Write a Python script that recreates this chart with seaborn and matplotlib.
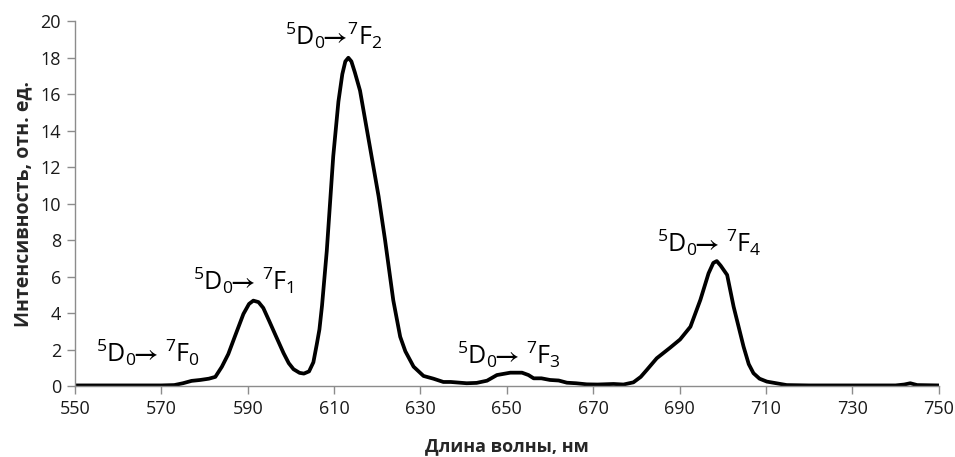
import matplotlib
matplotlib.use("Agg")
import matplotlib.pyplot as plt
import seaborn as sns
import pandas as pd

# Luminescence spectrum of Eu3+ (wavelength in nm, intensity in rel. units)
wavelength = [550, 560, 570, 573, 575, 577, 579, 581, 582.5, 584, 585.5, 587, 589,
              590.3, 591.3, 592.5, 593.6, 595, 596.5, 598.3, 599.5, 600.6, 602, 603,
              604.2, 605.2, 606, 606.6, 607.2, 608.3, 609.8, 611.0, 611.9, 612.6, 613.3,
              614.0, 614.8, 616.0, 618.3, 620.3, 621.8, 623.7, 625.3, 626.5, 628.4, 630.7,
              633, 635.3, 637, 640.7, 643, 645.4, 647.7, 650.8, 653.5, 655, 656.2,
              658, 660, 662, 663.9, 666, 668.5, 671, 674.7, 677, 679.3, 681, 682.4,
              684.7, 687.8, 690.1, 692.5, 694.8, 696.7, 697.8, 698.6, 699.5, 701,
              702.5, 704.8, 706.0, 707.1, 708.5, 710.2, 714.8, 720, 740, 742, 743.4,
              745, 750]
intensity = [0.03, 0.03, 0.03, 0.05, 0.15, 0.28, 0.33, 0.40, 0.50, 1.05, 1.75, 2.7, 3.95,
             4.5, 4.68, 4.6, 4.28, 3.55, 2.75, 1.8, 1.25, 0.92, 0.72, 0.68,
             0.8, 1.3, 2.3, 3.1, 4.4, 7.4, 12.6, 15.6, 17.1, 17.8, 18.0,
             17.8, 17.2, 16.2, 13.1, 10.4, 8.0, 4.7, 2.7, 1.9, 1.06, 0.55,
             0.40, 0.22, 0.22, 0.15, 0.17, 0.29, 0.6, 0.73, 0.73, 0.6, 0.42,
             0.42, 0.33, 0.3, 0.18, 0.15, 0.09, 0.08, 0.11, 0.08, 0.2, 0.5, 0.88,
             1.52, 2.1, 2.55, 3.25, 4.72, 6.18, 6.75, 6.85, 6.6, 6.09,
             4.35, 2.16, 1.2, 0.70, 0.4, 0.24, 0.05, 0.03, 0.03, 0.08, 0.15,
             0.05, 0.03]

# Transition labels and their anchor points (x in nm, y in rel. units)
ARROW = r"$\!\!\mathbf{\rightarrow}\!$"
labels = [r"$^5$D$_0$" + ARROW + r" $^7$F$_0$",
          r"$^5$D$_0$" + ARROW + r" $^7$F$_1$",
          r"$^5$D$_0$" + ARROW + r"$^7$F$_2$",
          r"$^5$D$_0$" + ARROW + r" $^7$F$_3$",
          r"$^5$D$_0$" + ARROW + r" $^7$F$_4$"]
label_x = [566.8, 589.0, 610.0, 650.4, 696.9]
label_y = [1.30, 5.27, 18.7, 1.24, 7.37]

x_ticks = list(range(550, 751, 20))
y_ticks = list(range(0, 21, 2))

sns.set_theme(style="white")
plt.rcParams["font.family"] = ["Open Sans", "DejaVu Sans"]
plt.rcParams["mathtext.fontset"] = "custom"
plt.rcParams["mathtext.rm"] = "Open Sans"
plt.rcParams["mathtext.it"] = "Open Sans:italic"
plt.rcParams["mathtext.bf"] = "Open Sans:bold"
plt.rcParams["mathtext.fallback"] = "stixsans"

df = pd.DataFrame({"wl": wavelength, "I": intensity})

fig = plt.figure(figsize=(9.55, 4.57), dpi=100)
ax = fig.add_axes([0.0785, 0.1554, 0.9045, 0.798])

sns.lineplot(data=df, x="wl", y="I", ax=ax, color="black", linewidth=2.7,
             estimator=None, sort=False)

ax.set_xlim(550, 750)
ax.set_ylim(0, 20)
ax.set_xticks(x_ticks)
ax.set_yticks(y_ticks)

for s in ["top", "right"]:
    ax.spines[s].set_visible(False)
for s in ["left", "bottom"]:
    ax.spines[s].set_color("#8c8c8c")
    ax.spines[s].set_linewidth(1.0)

ax.tick_params(axis="both", which="major", direction="out", length=6, width=1,
               color="#8c8c8c", labelsize=13, labelcolor="#1a1a1a", pad=4,
               bottom=True, left=True)

ax.set_xlabel("Длина волны, нм", fontsize=13, fontweight="bold", labelpad=14)
ax.set_ylabel("Интенсивность, отн. ед.", fontsize=14, fontweight="bold", labelpad=5)

for txt, lx, ly in zip(labels, label_x, label_y):
    ax.text(lx, ly, txt, ha="center", va="baseline", fontsize=18, color="black")

fig.savefig("out.png", dpi=100)
